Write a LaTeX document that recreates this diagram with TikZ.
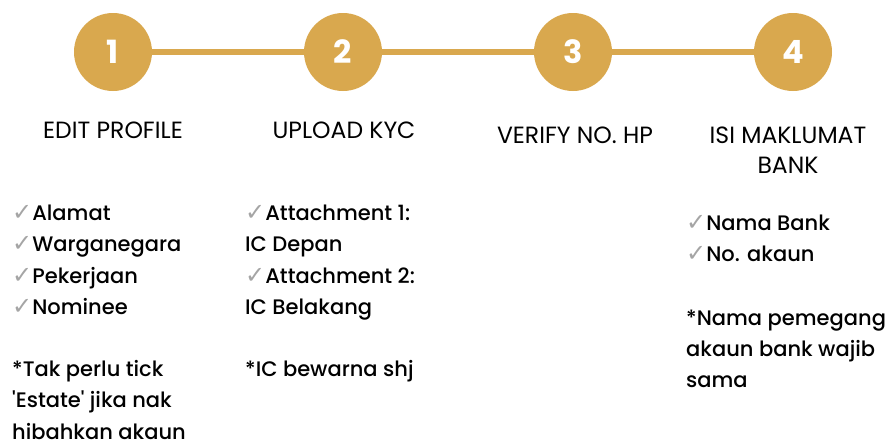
\documentclass[tikz,border=0pt]{standalone}
\usepackage{fontspec}
\setmainfont{Poppins}
\newfontfamily\medfont{Poppins Medium}
\newfontfamily\symfont{DejaVu Sans}
\definecolor{gold}{HTML}{D9A84E}
\definecolor{tickgray}{HTML}{A5A5A5}
\newcommand{\tk}{{\symfont\color{tickgray}\fontsize{24}{24}\selectfont ✓}}
\tikzset{
  stepcircle/.style={circle, fill=gold, minimum size=78pt, inner sep=0pt, text=white, font=\bfseries\fontsize{32}{32}\selectfont},
  link/.style={draw=gold, line width=6pt},
  title/.style={font=\fontsize{23.5}{30}\selectfont, align=center, text=black},
  body/.style={font=\medfont\fontsize{21}{31.2}\selectfont, align=left, anchor=north west, inner sep=0pt, text=black}
}
\begin{document}
\begin{tikzpicture}[x=1pt,y=-1pt]
\useasboundingbox (0,0) rectangle (892,445);
\node[stepcircle] (c1) at (113,52) {1};
\node[stepcircle] (c2) at (343,52) {2};
\node[stepcircle] (c3) at (573,52) {3};
\node[stepcircle] (c4) at (793,52) {4};
\draw[link] (c1.east) -- (c2.west);
\draw[link] (c2.east) -- (c3.west);
\draw[link] (c3.east) -- (c4.west);
\node[title] (t1) at (113,130) {EDIT PROFILE};
\node[title] (t2) at (344,130) {UPLOAD KYC};
\node[title] (t3) at (575,135) {VERIFY NO. HP};
\node[title] (t4) at (788,150) {ISI MAKLUMAT\\BANK};
\node[body] (b1) at (12,205) {\tk Alamat\\\tk Warganegara\\\tk Pekerjaan\\\tk Nominee\\[31.2pt]*Tak perlu tick\\'Estate' jika nak\\hibahkan akaun};
\node[body] (b2) at (245,205) {\tk Attachment 1:\\IC Depan\\\tk Attachment 2:\\IC Belakang\\[31.2pt]*IC bewarna shj};
\node[body] (b4) at (686,215) {\tk Nama Bank\\\tk No. akaun\\[32pt]*Nama pemegang\\akaun bank wajib\\sama};
\end{tikzpicture}
\end{document}
